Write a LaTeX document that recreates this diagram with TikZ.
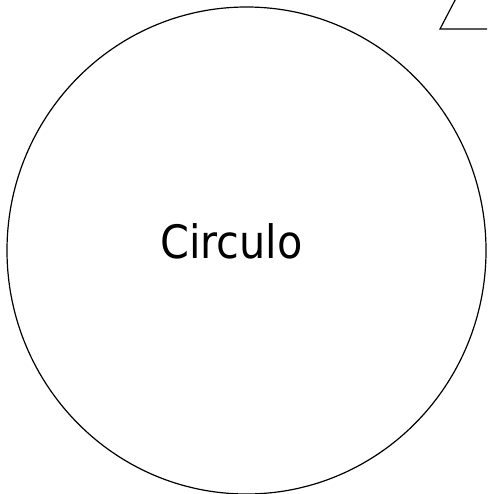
\documentclass[tikz,border=0pt]{standalone}
\usepackage{fontspec}
\setmainfont{DejaVu Sans Condensed}
\begin{document}
\begin{tikzpicture}[x=1pt, y=-1pt, line width=1.2pt,
    shapeline/.style={draw=black, line join=miter},
    labeltext/.style={font=\fontsize{46}{50}\selectfont, inner sep=0pt, anchor=base}]
    \useasboundingbox (0, 0) rectangle (487, 494);
    \clip (0, 0) rectangle (487, 494);
    % circle shape, bottom is cut off by the page
    \draw[shapeline] (246.5, 250.5) ellipse [x radius=239.5, y radius=243.5];
    \node[labeltext] (circulo) at (231.5, 258) {Circulo};
    % corner of a triangle, mostly off the page
    \draw[shapeline] (520, 29) -- (440, 29) -- (464, -17);
\end{tikzpicture}
\end{document}
